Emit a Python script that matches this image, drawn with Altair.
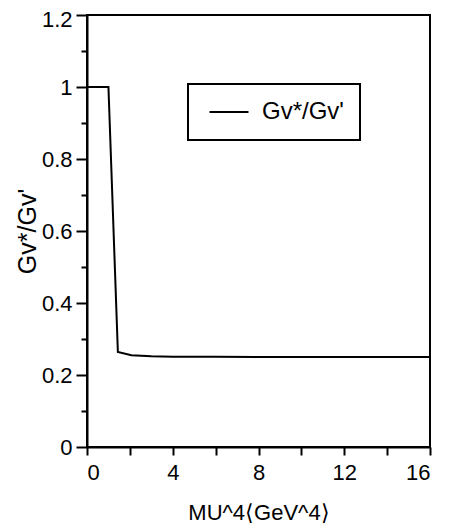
import altair as alt
import pandas as pd

mu4 = [0, 1.0, 1.44, 2.07, 3.0, 4.0, 6.0, 8.0, 10.0, 12.0, 14.0, 16.0]
ratio = [1.0, 1.0, 0.264, 0.255, 0.252, 0.251, 0.2505, 0.25, 0.25, 0.25, 0.25, 0.25]
series = "Gv*/Gv'"

df = pd.DataFrame({"mu4": mu4, "ratio": ratio, "s": [series] * len(mu4)})

FONT = "Liberation Sans, Arial, sans-serif"

x_vals = [0, 2, 4, 6, 8, 10, 12, 14, 16]
y_vals = [0, 0.1, 0.2, 0.3, 0.4, 0.5, 0.6, 0.7, 0.8, 0.9, 1.0, 1.1, 1.2]

MAJOR = "abs(round(datum.value*5) - datum.value*5) < 1e-6"

chart = alt.Chart(df).mark_line(strokeWidth=2, clip=True).encode(
    x=alt.X("mu4:Q",
            scale=alt.Scale(domain=[0, 16], nice=False, zero=False),
            axis=alt.Axis(values=x_vals, title="MU^4⟨GeV^4⟩",
                          labelExpr="datum.value % 4 === 0 ? datum.label : ''",
                          tickSize=8, labelPadding=7, grid=False,
                          titleX=171.5, titleY=65, titleBaseline="middle",
                          titleAlign="center")),
    y=alt.Y("ratio:Q",
            scale=alt.Scale(domain=[0, 1.2], nice=False),
            axis=alt.Axis(values=y_vals, title="Gv*/Gv'",
                          labelExpr=MAJOR + " ? (datum.value == 0 ? '0' : datum.value == 1 ? '1' : format(datum.value, '.1f')) : ''",
                          tickSize={"condition": {"test": MAJOR, "value": 11}, "value": 6},
                          labelOffset={"condition": {"test": "datum.value > 1.15", "value": 4}, "value": 0},
                          labelPadding=4, grid=False,
                          titleX=-60, titleY=216, titleAngle=270, titleFontSize=25,
                          titleBaseline="middle", titleAlign="center")),
    color=alt.Color("s:N", scale=alt.Scale(range=["black"]),
                    legend=alt.Legend(title=None, orient="none",
                                      legendX=101, legendY=69,
                                      symbolType="M-1,0L5,0", symbolSize=169,
                                      symbolStrokeWidth=2, labelOffset=34,
                                      padding=16, strokeColor="black",
                                      fillColor="white", labelFontSize=24))
).properties(
    width=343, height=432,
    autosize=alt.AutoSizeParams(type="none"),
    padding={"left": 79, "top": 7, "right": 12, "bottom": 76}
).configure_view(
    stroke="black", strokeWidth=2
).configure_axis(
    domainColor="black", domainWidth=2, tickColor="black", tickWidth=2,
    labelFont=FONT, labelFontSize=22, labelColor="black",
    titleFont=FONT, titleFontSize=22, titleColor="black", titleFontWeight="normal"
).configure_legend(
    labelFont=FONT, labelColor="black", strokeWidth=2
)

chart.save("out.html", embed_options={"renderer": "svg", "actions": False})
